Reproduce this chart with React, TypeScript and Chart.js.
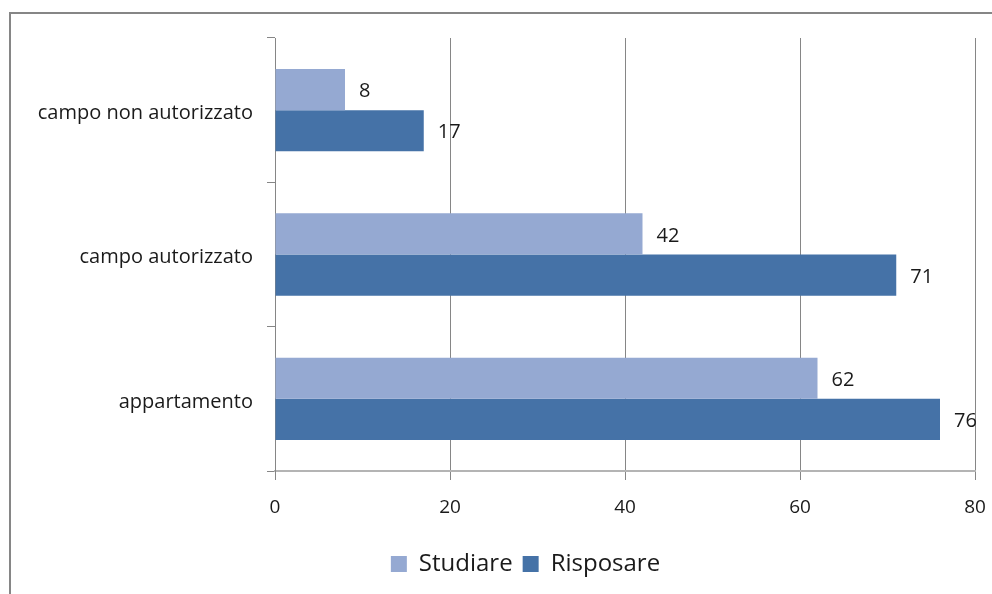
import React, { useEffect, useRef } from "react";
import { Chart, registerables } from "chart.js";

Chart.register(...registerables);

const categories = ["campo non autorizzato", "campo autorizzato", "appartamento"];
const studiare = [8, 42, 62];
const risposare = [17, 71, 76];
const seriesNames = ["Studiare", "Risposare"];
const xTicks = [0, 20, 40, 60, 80];

const FONT = "'Open Sans', 'DejaVu Sans', sans-serif";

export default function App() {
  const ref = useRef<HTMLCanvasElement | null>(null);

  useEffect(() => {
    if (!ref.current) return;
    const framePlugin = {
      id: "frame",
      afterLayout(chart: any) {
        // the reference legend sits centred slightly right of the canvas centre
        if (chart.legend) {
          chart.legend.left += 38;
          chart.legend.right += 38;
        }
      },
      beforeDraw(chart: any) {
        const ctx = chart.ctx;
        ctx.save();
        ctx.fillStyle = "#ffffff";
        ctx.fillRect(0, 0, chart.width, chart.height);
        ctx.strokeStyle = "#868686";
        ctx.lineWidth = 2;
        ctx.strokeRect(10, 13, 3000, 3000);
        ctx.restore();
      },
    };
    const labelPlugin = {
      id: "valueLabels",
      afterDatasetsDraw(chart: any) {
        const ctx = chart.ctx;
        ctx.save();
        ctx.font = `20px ${FONT}`;
        ctx.fillStyle = "#1a1a1a";
        ctx.textBaseline = "middle";
        ctx.textAlign = "left";
        chart.data.datasets.forEach((ds: any, di: number) => {
          const meta = chart.getDatasetMeta(di);
          meta.data.forEach((bar: any, i: number) => {
            ctx.fillText(String(ds.data[i]), bar.x + 14, bar.y + 2);
          });
        });
        ctx.restore();
      },
    };
    const chart = new Chart(ref.current, {
      type: "bar",
      data: {
        labels: categories,
        datasets: [
          { label: seriesNames[0], data: studiare, backgroundColor: "#95A9D2" },
          { label: seriesNames[1], data: risposare, backgroundColor: "#4572A7" },
        ],
      },
      options: {
        indexAxis: "y",
        responsive: false,
        animation: false,
        devicePixelRatio: 1,
        layout: { padding: { left: 0, right: 17, top: 38, bottom: 8 } },
        datasets: { bar: { categoryPercentage: 0.57, barPercentage: 1 } },
        scales: {
          x: {
            min: 0,
            max: 80,
            afterBuildTicks(scale: any) {
              scale.ticks = xTicks.map((v) => ({ value: v }));
            },
            afterFit(scale: any) {
              scale.height = 71;
              scale.paddingLeft = 0;
              scale.paddingRight = 0;
            },
            grid: { color: "#868686", tickLength: 9, lineWidth: 1 },
            border: { color: "#B4B4B4", width: 2 },
            ticks: { color: "#1a1a1a", font: { family: FONT, size: 19 }, padding: 16 },
          },
          y: {
            afterFit(scale: any) {
              scale.width = 275;
              scale.paddingTop = 0;
              scale.paddingBottom = 0;
            },
            grid: { drawOnChartArea: false, color: "#868686", tickLength: 8, offset: true },
            border: { color: "#868686", width: 1 },
            ticks: { color: "#1a1a1a", font: { family: FONT, size: 20 }, padding: 14, labelOffset: 3 },
          },
        },
        plugins: {
          legend: {
            position: "bottom",
            labels: {
              boxWidth: 16,
              boxHeight: 16,
              color: "#1a1a1a",
              font: { family: FONT, size: 24 },
              padding: 10,
            },
          },
          tooltip: { enabled: false },
        },
      },
      plugins: [framePlugin, labelPlugin],
    } as any);
    return () => chart.destroy();
  }, []);

  return (
    <div style={{ position: "fixed", left: 0, top: 0, width: 992, height: 594, overflow: "hidden", background: "#fff" }}>
      <canvas ref={ref} width={992} height={594} style={{ display: "block" }} />
    </div>
  );
}
